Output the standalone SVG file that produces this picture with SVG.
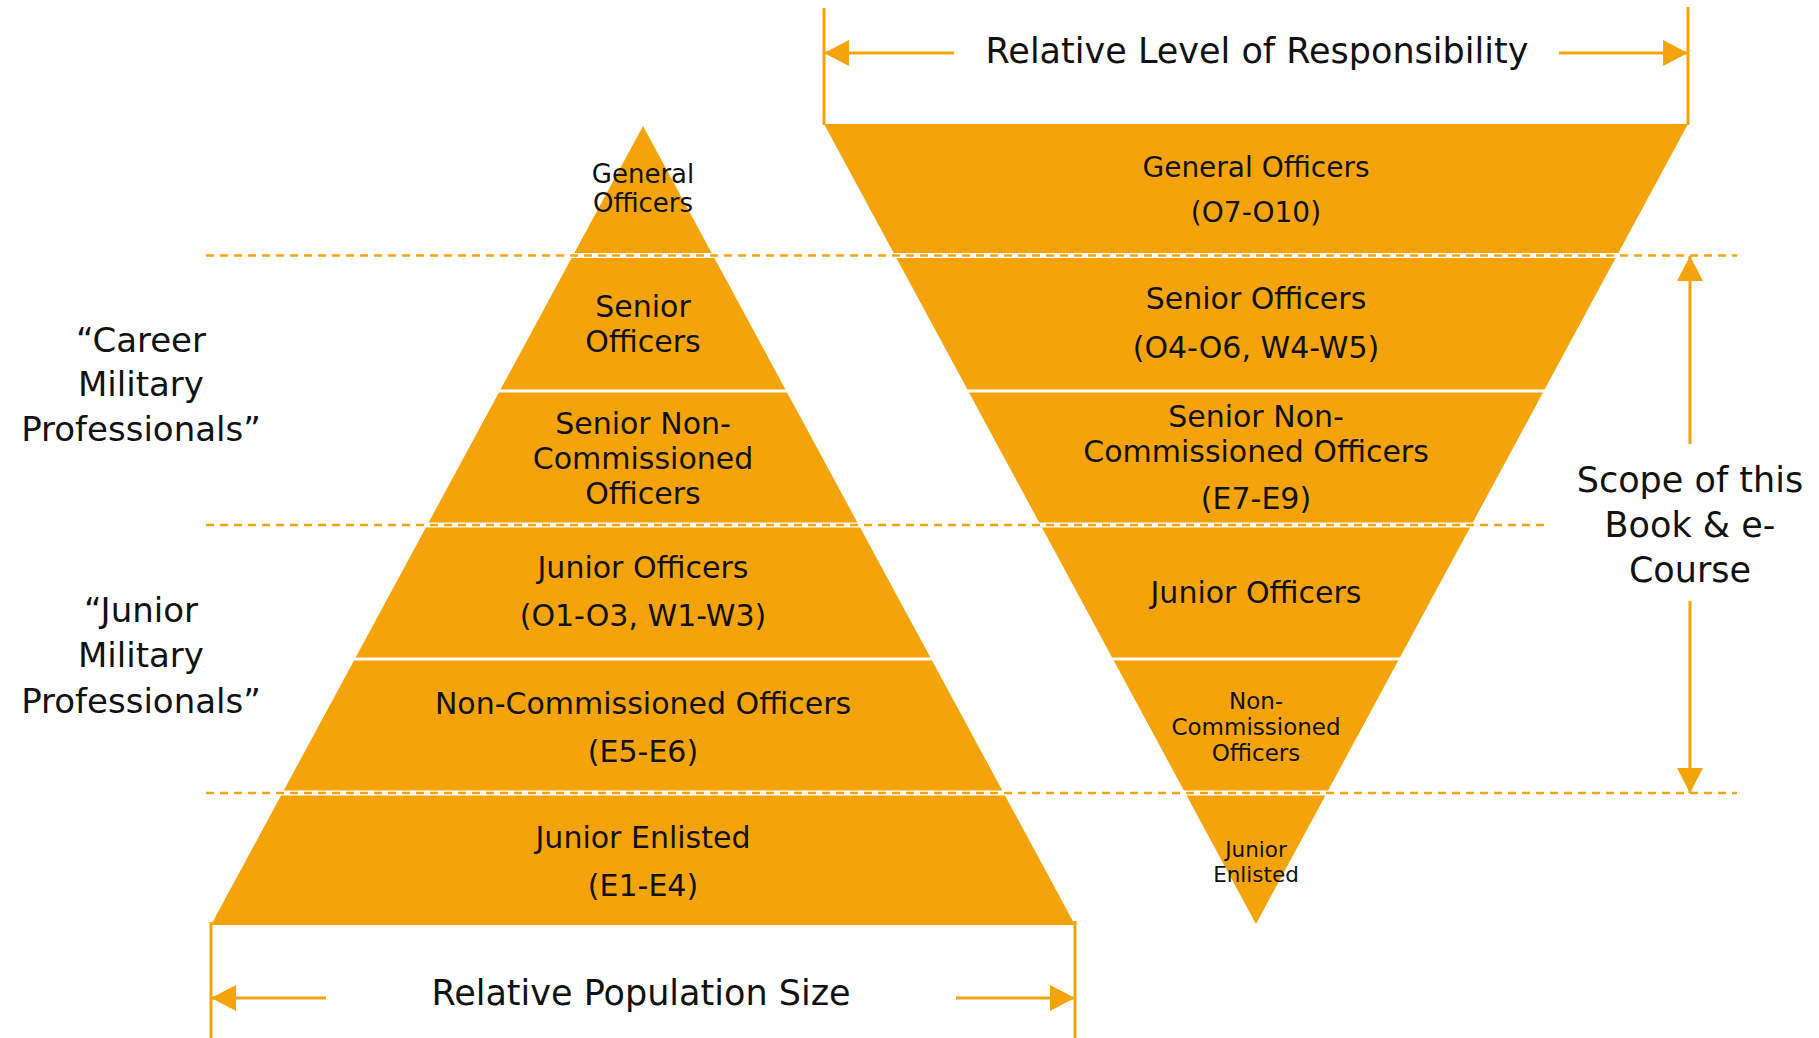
<svg xmlns="http://www.w3.org/2000/svg" width="1819" height="1038" viewBox="0 0 1819 1038">
<style>
.band{fill:#F4A40A}
.t{font-family:"DejaVu Sans","Liberation Sans",sans-serif;fill:#111;text-anchor:middle}
.b30{font-size:30px}
.side{font-size:35px}
.ln{stroke:#F4A40A;stroke-width:3;fill:none}
.dash{stroke:#F4A40A;stroke-width:2.5;stroke-dasharray:8 6;fill:none}
</style>
<defs>
<marker id="ah" viewBox="0 0 25 26" refX="25" refY="13" markerWidth="25" markerHeight="26" markerUnits="userSpaceOnUse" orient="auto">
<path d="M0,0 L25,13 L0,26 Z" fill="#F4A40A"/>
</marker>
</defs>
<rect width="1819" height="1038" fill="#fff"/>

<!-- Left pyramid -->
<g id="left-general-officers">
<polygon class="band" points="643,126 711.7,253 574.3,253"/>
<text class="t" style="font-size:26px" x="643" y="183">General</text>
<text class="t" style="font-size:26px" x="643" y="212">Officers</text>
</g>
<g id="left-senior-officers">
<polygon class="band" points="571.6,258 714.4,258 785.5,389.5 500.5,389.5"/>
<text class="t b30" x="643" y="317">Senior</text>
<text class="t b30" x="643" y="352">Officers</text>
</g>
<g id="left-senior-nco">
<polygon class="band" points="498.9,392.5 787.1,392.5 857.4,522.5 428.6,522.5"/>
<text class="t b30" x="643" y="434">Senior Non-</text>
<text class="t b30" x="643" y="469">Commissioned</text>
<text class="t b30" x="643" y="504">Officers</text>
</g>
<g id="left-junior-officers">
<polygon class="band" points="425.9,527.5 860.1,527.5 930.4,657.5 355.6,657.5"/>
<text class="t b30" x="643" y="578">Junior Officers</text>
<text class="t b30" x="643" y="626">(O1-O3, W1-W3)</text>
</g>
<g id="left-nco">
<polygon class="band" points="354,660.5 932,660.5 1002.3,790.5 283.7,790.5"/>
<text class="t b30" x="643" y="714">Non-Commissioned Officers</text>
<text class="t b30" x="643" y="762">(E5-E6)</text>
</g>
<g id="left-junior-enlisted">
<polygon class="band" points="281,795.5 1005,795.5 1075,925 211,925"/>
<text class="t b30" x="643" y="848">Junior Enlisted</text>
<text class="t b30" x="643" y="896">(E1-E4)</text>
</g>

<!-- Right inverted pyramid -->
<g id="right-general-officers">
<polygon class="band" points="824,124 1688,124 1618.3,253 893.7,253"/>
<text class="t" style="font-size:28px" x="1256" y="177">General Officers</text>
<text class="t" style="font-size:28px" x="1256" y="222">(O7-O10)</text>
</g>
<g id="right-senior-officers">
<polygon class="band" points="896.4,258 1615.6,258 1544.6,389.5 967.4,389.5"/>
<text class="t b30" x="1256" y="309">Senior Officers</text>
<text class="t b30" x="1256" y="358">(O4-O6, W4-W5)</text>
</g>
<g id="right-senior-nco">
<polygon class="band" points="969,392.5 1543,392.5 1472.8,522.5 1039.2,522.5"/>
<text class="t b30" x="1256" y="427">Senior Non-</text>
<text class="t b30" x="1256" y="462">Commissioned Officers</text>
<text class="t b30" x="1256" y="509">(E7-E9)</text>
</g>
<g id="right-junior-officers">
<polygon class="band" points="1041.9,527.5 1470.1,527.5 1399.9,657.5 1112.1,657.5"/>
<text class="t b30" x="1256" y="603">Junior Officers</text>
</g>
<g id="right-nco">
<polygon class="band" points="1113.7,660.5 1398.3,660.5 1328.1,790.5 1183.9,790.5"/>
<text class="t" style="font-size:23px" x="1256" y="709">Non-</text>
<text class="t" style="font-size:23px" x="1256" y="735">Commissioned</text>
<text class="t" style="font-size:23px" x="1256" y="761">Officers</text>
</g>
<g id="right-junior-enlisted">
<polygon class="band" points="1186.6,795.5 1325.4,795.5 1256,924"/>
<text class="t" style="font-size:21.5px" x="1256" y="857">Junior</text>
<text class="t" style="font-size:21.5px" x="1256" y="882">Enlisted</text>
</g>

<!-- Side labels -->
<g id="label-career">
<text class="t" style="font-size:34px" x="141" y="352">“Career</text>
<text class="t" style="font-size:34px" x="141" y="396">Military</text>
<text class="t" style="font-size:34px" x="141" y="441">Professionals”</text>
</g>
<g id="label-junior">
<text class="t" style="font-size:34px" x="141" y="622">“Junior</text>
<text class="t" style="font-size:34px" x="141" y="667">Military</text>
<text class="t" style="font-size:34px" x="141" y="713">Professionals”</text>
</g>
<g id="label-scope">
<text class="t side" x="1690" y="492">Scope of this</text>
<text class="t side" x="1690" y="537">Book &amp; e-</text>
<text class="t side" x="1690" y="582">Course</text>
</g>
<g id="label-responsibility">
<text class="t side" x="1257" y="63">Relative Level of Responsibility</text>
</g>
<g id="label-population">
<text class="t side" x="641" y="1005">Relative Population Size</text>
</g>

<!-- Connectors -->
<g id="connectors">
<line class="dash" x1="206" y1="255.5" x2="1737" y2="255.5"/>
<line class="dash" x1="206" y1="525" x2="1545" y2="525"/>
<line class="dash" x1="206" y1="793" x2="1737" y2="793"/>
<line class="ln" x1="824" y1="8" x2="824" y2="125"/>
<line class="ln" x1="1688" y1="7" x2="1688" y2="125"/>
<line class="ln" x1="211" y1="922" x2="211" y2="1038"/>
<line class="ln" x1="1075" y1="921" x2="1075" y2="1038"/>
<line class="ln" x1="954" y1="53" x2="824" y2="53" marker-end="url(#ah)"/>
<line class="ln" x1="1559" y1="53" x2="1688" y2="53" marker-end="url(#ah)"/>
<line class="ln" x1="326" y1="998" x2="211" y2="998" marker-end="url(#ah)"/>
<line class="ln" x1="956" y1="998" x2="1075" y2="998" marker-end="url(#ah)"/>
<line class="ln" x1="1690" y1="444" x2="1690" y2="256" marker-end="url(#ah)"/>
<line class="ln" x1="1690" y1="601" x2="1690" y2="793" marker-end="url(#ah)"/>
</g>
</svg>
